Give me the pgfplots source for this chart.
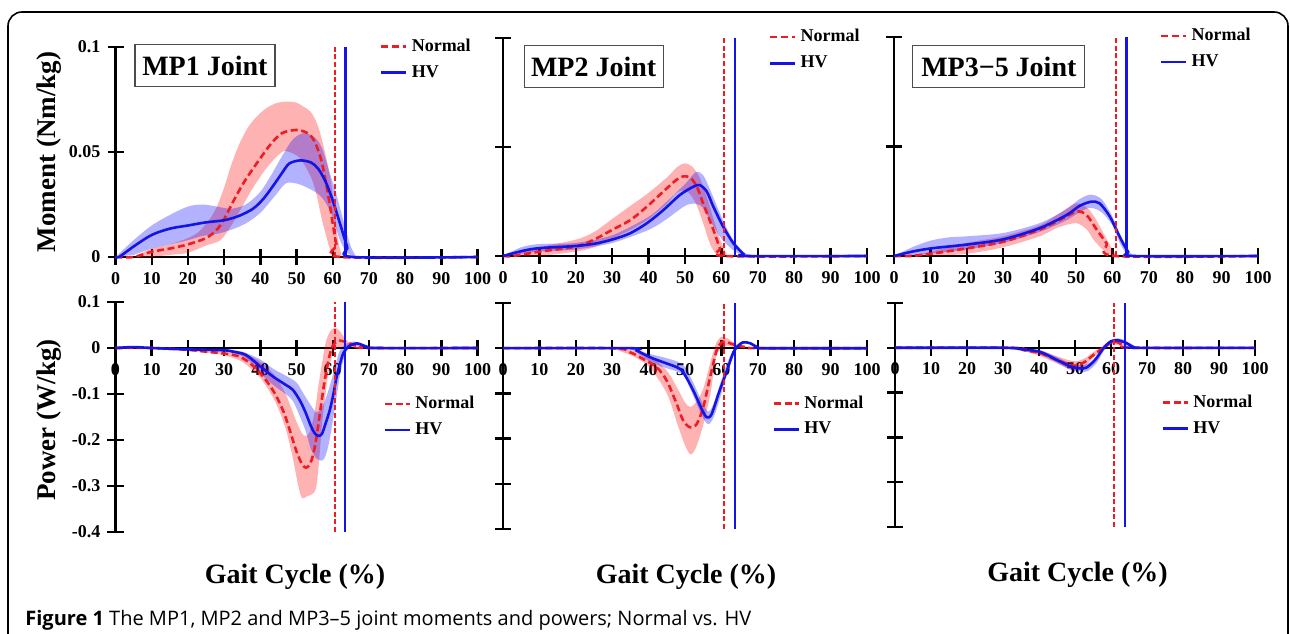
\documentclass[border=0pt]{standalone}
\usepackage{fontspec}
\setmainfont{Liberation Serif}
\newfontfamily\capfont{Open Sans}
\usepackage{pgfplots}
\pgfplotsset{compat=1.18}
\definecolor{nred}{RGB}{238,28,36}
\definecolor{hvblue}{RGB}{20,20,230}
\pgfplotsset{
  panel/.style={scale only axis, enlargelimits=false, clip=false,
    xmin=0, xmax=100, axis line style={line width=1.2pt,-},
    tick align=center, major tick length=8pt,
    every tick/.style={black, line width=1.2pt},
    hide obscured x ticks=false, hide obscured y ticks=false,
    xtick={0,10,20,30,40,50,60,70,80,90,100},
    xticklabels={0,10,20,30,40,50,60,70,80,90,100},
    ticklabel style={font=\bfseries\fontsize{9}{10}\selectfont},
    legend style={draw=none, fill=none, font=\bfseries\fontsize{9}{10}\selectfont,
      anchor=north west, row sep=1.5pt, inner sep=0pt},
    legend cell align=left,
    legend image code/.code={\draw[##1] (0pt,0pt) -- (12.5pt,0pt);},
  },
  top/.style={panel, axis lines*=left, ymin=0, ymax=0.1, ytick={0,0.05,0.1},
    legend style={at={(0.73,1.06)}}},
  bot/.style={panel, axis x line*=middle, axis y line*=left, ymin=-0.4, ymax=0.1,
    ytick={-0.4,-0.3,-0.2,-0.1,0,0.1}, legend style={at={(0.74,0.61)}}},
  nmean/.style={nred, line width=1.3pt, dash pattern=on 3.5pt off 1.8pt, smooth},
  hmean/.style={hvblue, line width=1.3pt, smooth},
  nband/.style={fill=red, fill opacity=0.3, draw=none, forget plot, smooth},
  hband/.style={fill=blue, fill opacity=0.3, draw=none, forget plot, smooth},
  nvl/.style={nred, line width=1.2pt, dash pattern=on 2.5pt off 1.3pt, forget plot},
  hvl/.style={hvblue, line width=1.2pt, forget plot},
}
\tikzset{ttl/.style={draw=black!70, line width=0.6pt, fill=white,
  font=\bfseries\fontsize{14}{16}\selectfont, minimum height=21pt, inner sep=2pt}}

\begin{document}
\begin{tikzpicture}
\useasboundingbox (0,0) rectangle (645pt,316.5pt);
\draw[line width=0.8pt, rounded corners=7pt] (4pt,-3pt) -- (4pt,310.5pt) -- (644pt,310.5pt) -- (644pt,-3pt);

% ---------- MP1 moment
\begin{axis}[top, at={(57.75pt,188pt)}, anchor=south west, width=181pt, height=105pt,
  yticklabels={0,0.05,0.1}]
\addplot[nband] coordinates {(5,0)(10,0.004)(15,0.006)(20,0.009)(23,0.012)(26,0.018)(28,0.024)(30,0.033)(32,0.044)(34,0.053)(36,0.06)(38,0.065)(41,0.07)(44,0.073)(47,0.074)(50,0.0735)(52,0.0715)(54,0.069)(56,0.062)(58,0.049)(59.5,0.036)(60.5,0.022)(61.5,0.008)(62.5,0)
  (62,0)(60,0)(59,0.005)(57,0.018)(55.5,0.03)(54,0.038)(51,0.047)(48,0.05)(46,0.05)(42,0.043)(38,0.033)(35,0.024)(32,0.015)(29,0.008)(25,0.0055)(20,0.002)(15,0.001)(10,0)} -- cycle;
\addplot[hband] coordinates {(0,0)(5,0.008)(10,0.015)(15,0.02)(20,0.024)(24,0.025)(28,0.024)(32,0.023)(36,0.025)(40,0.031)(43,0.039)(46,0.048)(49,0.056)(52,0.059)(55,0.057)(57,0.052)(59,0.041)(61,0.03)(63,0.017)(65,0.005)(66.5,0)
  (66,0)(64,0.002)(62,0.008)(60,0.019)(58,0.026)(56,0.03)(53,0.033)(50,0.035)(47,0.035)(44,0.029)(40,0.021)(36,0.016)(32,0.013)(28,0.011)(24,0.01)(20,0.008)(15,0.006)(10,0.004)(5,0.001)} -- cycle;
\addplot[nmean] coordinates {(0,0)(5,0)(10,0.0025)(15,0.004)(20,0.006)(25,0.009)(28,0.013)(30,0.018)(33,0.028)(36,0.037)(40,0.047)(43,0.054)(46,0.059)(50,0.0605)(53,0.059)(55,0.055)(57,0.045)(59,0.027)(60,0.016)(61,0.006)(62,0)(100,0)};
\addlegendentry{Normal}
\addplot[hmean] coordinates {(0,0)(1,0)(5,0.005)(10,0.0105)(15,0.0135)(20,0.015)(25,0.0165)(30,0.0175)(34,0.0195)(38,0.023)(41,0.028)(44,0.035)(46,0.04)(48,0.0445)(51,0.046)(54,0.045)(56,0.042)(58,0.036)(60,0.027)(62,0.016)(64,0.005)(65.6,0)(100,0)};
\addlegendentry{HV}
\addplot[nvl] coordinates {(60.6,0)(60.6,0.1)};
\addplot[hvl] coordinates {(63.5,0)(63.5,0.1)};
\node[ttl, minimum width=70pt] at (rel axis cs:0.247,0.91) {MP1 Joint};
\end{axis}

% ---------- MP2 moment
\begin{axis}[top, at={(251.5pt,188.5pt)}, anchor=south west, width=182pt, height=109pt,
  yticklabels={}]
\addplot[nband] coordinates {(2,0)(10,0.004)(20,0.0075)(25,0.011)(30,0.017)(35,0.023)(40,0.029)(45,0.036)(48,0.041)(50,0.0425)(52,0.041)(54,0.036)(56,0.027)(58,0.016)(60,0.006)(61.5,0)
  (60,0)(59,0)(57,0.005)(55,0.015)(53,0.024)(51,0.029)(49,0.03)(47,0.028)(45,0.024)(40,0.017)(35,0.012)(30,0.008)(25,0.004)(20,0.002)(10,0)} -- cycle;
\addplot[hband] coordinates {(0,0)(5,0.004)(10,0.0055)(20,0.006)(30,0.0095)(40,0.018)(45,0.025)(50,0.033)(53,0.0385)(55,0.037)(57,0.03)(60,0.018)(63,0.008)(66,0.002)(68,0)
  (67,0)(66,0)(63,0.003)(60,0.008)(57,0.016)(55,0.022)(53,0.024)(50,0.023)(45,0.017)(40,0.012)(30,0.006)(20,0.003)(10,0.002)(5,0.001)} -- cycle;
\addplot[nmean] coordinates {(0,0)(2.7,0)(10,0.002)(20,0.0043)(25,0.0075)(30,0.012)(35,0.0165)(39.5,0.0226)(44,0.0295)(47.7,0.035)(49.5,0.0365)(51.4,0.036)(53.2,0.032)(55,0.024)(57.8,0.012)(59.6,0.0036)(61,0)(100,0)};
\addlegendentry{Normal}
\addplot[hmean] coordinates {(0,0)(5.5,0.0024)(10,0.0036)(20,0.0046)(25.7,0.0058)(30.3,0.0077)(34.9,0.0104)(39.5,0.015)(44,0.021)(48.6,0.028)(52.3,0.0318)(54.1,0.0325)(56,0.0295)(57.8,0.0226)(60.5,0.0134)(63.3,0.0058)(66,0.001)(67,0)(100,0)};
\addlegendentry{HV}
\addplot[nvl] coordinates {(60.7,0)(60.7,0.1)};
\addplot[hvl] coordinates {(63.7,0)(63.7,0.1)};
\node[ttl, minimum width=69.5pt] at (rel axis cs:0.249,0.869) {MP2 Joint};
\end{axis}

% ---------- MP3-5 moment
\begin{axis}[top, at={(447pt,188.5pt)}, anchor=south west, width=182pt, height=109.5pt,
  yticklabels={}]
\addplot[nband] coordinates {(4,0)(10,0.002)(20,0.006)(30,0.009)(40,0.014)(45,0.019)(50,0.024)(53,0.022)(55,0.018)(58,0.009)(60,0.003)(61,0)
  (60,0)(58,0.002)(55,0.007)(53,0.012)(50,0.015)(45,0.013)(40,0.009)(30,0.004)(20,0.001)(10,0)} -- cycle;
\addplot[hband] coordinates {(0,0)(5,0.004)(10,0.007)(15,0.0085)(20,0.009)(30,0.0105)(40,0.015)(47,0.021)(51,0.026)(54,0.028)(57,0.026)(60,0.018)(62,0.01)(64,0.003)(66,0)
  (66,0)(64,0.001)(62,0.006)(60,0.014)(57,0.02)(54,0.022)(51,0.02)(47,0.016)(40,0.011)(30,0.006)(20,0.003)(10,0.001)(5,0.0005)} -- cycle;
\addplot[nmean] coordinates {(0,0)(4.4,0)(10,0.001)(20,0.0035)(30,0.0065)(40,0.012)(45.6,0.0165)(50.2,0.0203)(52.9,0.0187)(55.7,0.012)(58.4,0.0058)(60.7,0)(100,0)};
\addlegendentry{Normal}
\addplot[hmean] coordinates {(0,0)(5,0.002)(10.3,0.0035)(20.4,0.0053)(30,0.0076)(40,0.0127)(47.4,0.0187)(51,0.0229)(54.2,0.0248)(56.5,0.024)(59.3,0.018)(62,0.0088)(64.3,0.002)(66,0)(100,0)};
\addlegendentry{HV}
\addplot[nvl] coordinates {(61,0)(61,0.1)};
\addplot[hvl] coordinates {(63.9,0)(63.9,0.1)};
\node[ttl, minimum width=86pt] at (rel axis cs:0.288,0.865) {MP3−5 Joint};
\end{axis}

% ---------- MP1 power
\begin{axis}[bot, at={(57.75pt,50.5pt)}, anchor=south west, width=181pt, height=115pt,
  yticklabels={-0.4,-0.3,-0.2,-0.1,0,0.1}]
\addplot[nband] coordinates {(15,0)(20,-0.001)(25,-0.004)(30,-0.006)(35,-0.01)(40,-0.03)(44,-0.06)(47,-0.1)(49,-0.14)(50.5,-0.17)(52,-0.19)(53.5,-0.185)(55,-0.14)(56,-0.085)(57,-0.035)(58,0.01)(59,0.032)(60,0.042)(61,0.043)(62,0.036)(63.5,0.02)(65,0.008)(67,0.002)(70,0)
  (70,0)(67,0.001)(65,0.003)(63,0.002)(61,0)(60,-0.012)(59,-0.045)(58,-0.1)(57,-0.17)(56.3,-0.24)(55.5,-0.3)(54.6,-0.316)(53,-0.322)(51.5,-0.326)(50.5,-0.3)(49,-0.24)(47,-0.175)(44,-0.115)(40,-0.065)(35,-0.03)(30,-0.016)(25,-0.01)(20,-0.006)} -- cycle;
\addplot[hband] coordinates {(30,-0.002)(35,-0.008)(40,-0.025)(43.5,-0.045)(47,-0.06)(50,-0.075)(52,-0.1)(54,-0.125)(55.5,-0.14)(57,-0.13)(58.5,-0.1)(60,-0.06)(61,-0.03)(62,-0.005)(63.5,0.008)(66,0.014)(69,0.006)(72,0)
  (72,0)(69,0)(66,0.005)(64,-0.005)(63,-0.025)(62,-0.06)(61,-0.11)(60,-0.16)(59,-0.205)(58,-0.235)(57,-0.245)(55.5,-0.24)(54,-0.22)(52.5,-0.18)(51,-0.15)(49,-0.115)(47,-0.1)(43.5,-0.08)(40,-0.055)(36,-0.022)(32,-0.01)} -- cycle;
\addplot[nmean] coordinates {(0,0)(10,0)(20,-0.004)(25,-0.008)(30,-0.012)(34,-0.018)(37,-0.032)(40,-0.055)(42.5,-0.08)(44.5,-0.106)(46.5,-0.14)(48,-0.175)(50,-0.225)(51.5,-0.252)(52.5,-0.26)(53.5,-0.255)(54.5,-0.235)(55.5,-0.195)(56.5,-0.14)(57.5,-0.085)(58.5,-0.04)(59.5,-0.005)(60.5,0.01)(62,0.016)(64,0.012)(66,0.006)(68,0.002)(70,0)(100,0)};
\addlegendentry{Normal}
\addplot[hmean] coordinates {(0,0)(5,0.002)(10,0)(20,-0.003)(30,-0.005)(32.5,-0.008)(36,-0.015)(40,-0.04)(43.5,-0.062)(47,-0.08)(49,-0.091)(51,-0.115)(52.5,-0.14)(54,-0.17)(55,-0.185)(56,-0.191)(57,-0.187)(58,-0.165)(59.2,-0.135)(60.2,-0.1)(61.1,-0.062)(62,-0.035)(62.9,-0.012)(64.3,0.003)(66.7,0.01)(69.4,0.003)(72,0)(100,0)};
\addlegendentry{HV}
\addplot[nvl] coordinates {(60.6,-0.4)(60.6,0.1)};
\addplot[hvl] coordinates {(63.4,-0.4)(63.4,0.1)};
\end{axis}

% ---------- MP2 power
\begin{axis}[bot, at={(251.5pt,52pt)}, anchor=south west, width=182pt, height=113pt,
  yticklabels={}]
\addplot[nband] coordinates {(30,0)(35,-0.004)(40,-0.015)(45,-0.05)(48,-0.09)(50,-0.12)(51.5,-0.13)(53,-0.12)(55,-0.09)(57,-0.03)(58.5,0.01)(60,0.025)(62,0.02)(65,0.005)(70,0)
  (70,0)(65,0)(62,0.005)(60,0)(58.5,-0.02)(57,-0.1)(55,-0.17)(53,-0.22)(51.5,-0.235)(50,-0.215)(48,-0.17)(45,-0.1)(40,-0.04)(35,-0.015)} -- cycle;
\addplot[hband] coordinates {(35,0)(40,-0.012)(44,-0.02)(48,-0.03)(50,-0.042)(52.5,-0.08)(55,-0.125)(56.5,-0.14)(58,-0.12)(60,-0.07)(62,-0.025)(64,0.005)(66,0.016)(68,0.013)(70,0.004)(72,0)
  (72,0)(70,0.002)(68,0.008)(66,0.01)(64,-0.005)(62,-0.045)(60,-0.1)(58,-0.15)(56.5,-0.168)(55,-0.155)(52.5,-0.11)(50,-0.065)(48,-0.052)(44,-0.042)(40,-0.028)} -- cycle;
\addplot[nmean] coordinates {(0,0)(30,0)(34.9,-0.009)(38.5,-0.024)(42.2,-0.042)(45,-0.072)(47.7,-0.123)(49.5,-0.16)(51.4,-0.175)(53.2,-0.168)(55,-0.131)(56.9,-0.064)(58.7,-0.005)(60.1,0.013)(61.5,0.013)(64.2,0.006)(67,0.002)(70,0)(100,0)};
\addlegendentry{Normal}
\addplot[hmean] coordinates {(0,0)(35,0)(36.7,-0.005)(40.4,-0.02)(44,-0.031)(47.7,-0.042)(49.5,-0.053)(52.3,-0.094)(54.6,-0.135)(56,-0.153)(57.3,-0.146)(59.2,-0.101)(61.5,-0.05)(63.3,-0.009)(64.7,0.006)(66,0.013)(67.9,0.011)(69.7,0.003)(72,0)(100,0)};
\addlegendentry{HV}
\addplot[nvl] coordinates {(60.7,-0.4)(60.7,0.1)};
\addplot[hvl] coordinates {(63.7,-0.4)(63.7,0.1)};
\end{axis}

% ---------- MP3-5 power
\begin{axis}[bot, at={(447.5pt,53pt)}, anchor=south west, width=180pt, height=112pt,
  yticklabels={}]
\addplot[nband] coordinates {(33,0)(40,-0.007)(45,-0.019)(48.5,-0.028)(50.5,-0.03)(53,-0.022)(55,-0.01)(57,0)(59,0.011)(61,0.017)(63,0.01)(66,0)
  (66,0)(63,0.002)(61,0.009)(59,0.001)(57,-0.01)(55,-0.022)(53,-0.04)(50.5,-0.05)(48.5,-0.048)(45,-0.035)(40,-0.017)} -- cycle;
\addplot[hband] coordinates {(30,0)(40,-0.005)(45,-0.021)(48.5,-0.034)(51.5,-0.039)(53.5,-0.036)(56,-0.018)(58,0.005)(60,0.018)(62,0.021)(64,0.016)(66.5,0.004)(68,0)
  (68,0)(66,0)(64,0.008)(62,0.013)(60,0.008)(58,-0.007)(56,-0.034)(53.5,-0.052)(51.5,-0.053)(48.5,-0.048)(45,-0.033)(40,-0.013)} -- cycle;
\addplot[nmean] coordinates {(0,0)(33,0)(35.6,-0.005)(40.3,-0.012)(44.9,-0.027)(48.6,-0.038)(50.5,-0.04)(52.8,-0.031)(55.1,-0.016)(57,-0.005)(58.8,0.006)(60.2,0.013)(61.6,0.013)(63.4,0.006)(66,0)(100,0)};
\addlegendentry{Normal}
\addplot[hmean] coordinates {(0,0)(30,0)(35,-0.003)(40.3,-0.009)(44.9,-0.027)(48.6,-0.041)(51.4,-0.046)(53.2,-0.044)(55.6,-0.027)(57.9,-0.001)(59.7,0.013)(61.6,0.017)(63.9,0.012)(66.2,0.002)(68,0)(100,0)};
\addlegendentry{HV}
\addplot[nvl] coordinates {(60.9,-0.4)(60.9,0.1)};
\addplot[hvl] coordinates {(63.9,-0.4)(63.9,0.1)};
\end{axis}

% ---------- labels
\node[rotate=90, font=\bfseries\fontsize{13.5}{16}\selectfont] at (24.5pt,240.5pt) {Moment (Nm/kg)};
\node[rotate=90, font=\bfseries\fontsize{13.5}{16}\selectfont] at (24.5pt,106.5pt) {Power (W/kg)};
\node[font=\bfseries\fontsize{14}{16}\selectfont] at (147.5pt,28pt) {Gait Cycle (\%)};
\node[font=\bfseries\fontsize{14}{16}\selectfont] at (343pt,28pt) {Gait Cycle (\%)};
\node[font=\bfseries\fontsize{14}{16}\selectfont] at (538.75pt,29pt) {Gait Cycle (\%)};
\node[anchor=base west, inner sep=0pt] at (12.5pt,4pt)
  {\capfont\fontsize{10}{12}\selectfont\textbf{Figure 1} The MP1, MP2 and MP3–5 joint moments and powers; Normal vs. HV};
\end{tikzpicture}
\end{document}
